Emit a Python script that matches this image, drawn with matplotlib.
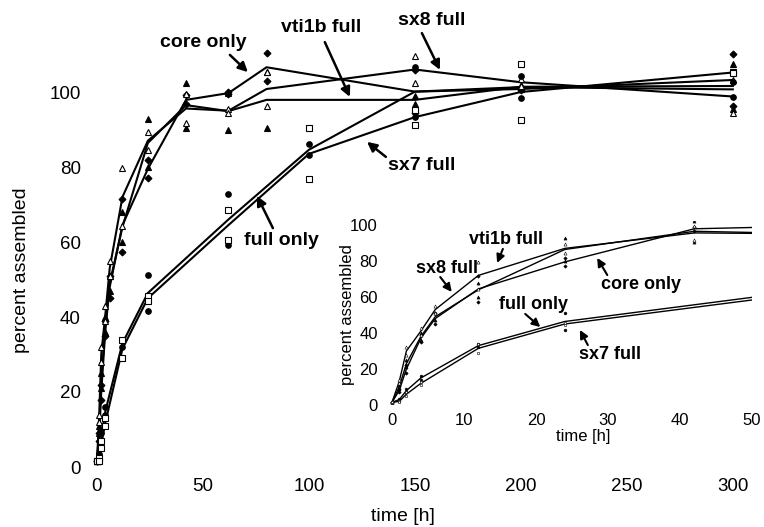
import numpy as np
import matplotlib.pyplot as plt

plt.rcParams['font.family'] = ['Liberation Sans', 'DejaVu Sans']

# sampling times (h)
t_core = [0, 1, 2, 4, 6, 12, 24, 42, 62, 80, 150, 200, 300]
t_full = [0, 1, 2, 4, 12, 24, 62, 100, 150, 200, 300]

# two replicates per construct, percent assembled
core_a = [1.5, 9, 22, 39, 51, 71.6, 81.9, 99.1, 100.0, 110.3, 105.9, 101.0, 110.2]
core_b = [1.5, 7, 18, 35, 45, 57.4, 77.1, 96.7, 99.4, 102.9, 94.3, 100.6, 96.2]
vti_a = [1.5, 11, 25, 40, 51, 68, 92.8, 102.5, 99.8, 105.4, 99.0, 102.0, 107.6]
vti_b = [1.5, 9, 21, 36, 47, 60, 80.0, 90.5, 90.0, 90.4, 96.8, 100.8, 95.6]
sx8_a = [1.5, 14, 32, 43, 55, 79.7, 89.4, 99.5, 95.5, 105.4, 109.5, 103.5, 103.3]
sx8_b = [1.5, 12, 28, 39, 51, 64.3, 84.6, 91.7, 94.5, 96.2, 102.5, 101.7, 94.3]
full_a = [1.5, 3.5, 9, 16, 34, 51.2, 72.8, 86.1, 106.8, 104.3, 102.7]
full_b = [1.5, 2.5, 7, 14, 32, 41.6, 59.2, 83.1, 93.4, 98.3, 98.7]
sx7_a = [1.5, 2.5, 7, 13, 33.9, 45.6, 68.5, 90.3, 95.3, 107.5, 105.4]
sx7_b = [1.5, 1.5, 5, 11, 29.1, 44.4, 60.5, 76.7, 91.3, 92.5, 105.0]

series = [
    ('core only', t_core, core_a, core_b, dict(marker='D', mfc='k', ms=3.5)),
    ('vti1b full', t_core, vti_a, vti_b, dict(marker='^', mfc='k', ms=4.5)),
    ('sx8 full', t_core, sx8_a, sx8_b, dict(marker='^', mfc='white', ms=4.5)),
    ('full only', t_full, full_a, full_b, dict(marker='o', mfc='k', ms=4)),
    ('sx7 full', t_full, sx7_a, sx7_b, dict(marker='s', mfc='white', ms=4)),
]

W, H = 764, 527


def px_box(x0, x1, ytop, ybot):
    return [x0 / W, 1 - ybot / H, (x1 - x0) / W, (ybot - ytop) / H]


def draw(ax, lw, scale):
    for name, t, a, b, st in series:
        mean = (np.array(a) + np.array(b)) / 2
        ax.plot(t, mean, color='k', lw=lw, zorder=2)
        for rep in (a, b):
            ax.plot(t, rep, ls='none', marker=st['marker'], mfc=st['mfc'],
                    mec='k', mew=0.8 * scale, ms=st['ms'] * scale, zorder=3)


def clean(ax):
    for s in ax.spines.values():
        s.set_visible(False)


fig = plt.figure(figsize=(7.64, 5.27), dpi=100)

# main plot
ax = fig.add_axes(px_box(86.4, 754, 43.25, 470.75))
draw(ax, 1.5, 1.0)
ax.set_xlim(-5, 310)
ax.set_ylim(-1, 113)
ax.set_xticks([0, 50, 100, 150, 200, 250, 300])
ax.set_yticks([0, 20, 40, 60, 80, 100])
ax.tick_params(length=0, labelsize=13.5)
ax.tick_params(axis='y', pad=4)
ax.tick_params(axis='x', pad=5)
clean(ax)
ax.set_xlabel('time [h]', fontsize=14)
ax.set_ylabel('percent assembled', fontsize=14)
ax.xaxis.set_label_coords(0.474, -0.087)
ax.yaxis.set_label_coords(-0.085, 0.47)

arrow = dict(arrowstyle='-|>', color='k', lw=1.8, mutation_scale=14,
             shrinkA=0, shrinkB=0)
main_notes = [
    ('core only', (50, 113.3), (62.7, 109.9), (71.2, 105.3)),
    ('vti1b full', (105.7, 117.1), (107.5, 113.3), (119.3, 98.7)),
    ('sx8 full', (158, 119.2), (153.3, 115.7), (161.8, 105.9)),
    ('sx7 full', (153.3, 80.5), (136.3, 82.7), (127.4, 86.7)),
    ('full only', (86.8, 60.5), (83, 63.7), (75.5, 72.3)),
]
for txt, pos, tail, tip in main_notes:
    ax.text(pos[0], pos[1], txt, fontsize=14, fontweight='bold',
            ha='center', va='center')
    ax.annotate('', xy=tip, xytext=tail, arrowprops=arrow)

# inset, first 50 h
ins = fig.add_axes(px_box(384.8, 752, 221.4, 408.6))
ins.patch.set_alpha(0)
draw(ins, 1.0, 0.5)
ins.set_xlim(-1, 50)
ins.set_ylim(-2, 102)
ins.set_xticks([0, 10, 20, 30, 40, 50])
ins.set_yticks([0, 20, 40, 60, 80, 100])
ins.tick_params(length=0, labelsize=12)
ins.tick_params(axis='y', pad=5)
ins.tick_params(axis='x', pad=3)
clean(ins)
ins.set_xlabel('time [h]', fontsize=12)
ins.set_ylabel('percent assembled', fontsize=12)
ins.xaxis.set_label_coords(0.54, -0.11)
ins.yaxis.set_label_coords(-0.081, 0.5)

arrow2 = dict(arrow, lw=1.5, mutation_scale=12)
inset_notes = [
    ('vti1b full', (15.8, 91.7), (15.4, 86.7), (14.6, 78.9)),
    ('sx8 full', (7.6, 76.1), (6.7, 71.1), (8.3, 62.8)),
    ('core only', (34.6, 66.7), (29.9, 72.2), (28.5, 81.7)),
    ('full only', (19.6, 55.6), (18.5, 50.6), (20.6, 43.3)),
    ('sx7 full', (30.3, 27.8), (27.2, 33.3), (26.1, 41.7)),
]
for txt, pos, tail, tip in inset_notes:
    ins.text(pos[0], pos[1], txt, fontsize=13, fontweight='bold',
             ha='center', va='center')
    ins.annotate('', xy=tip, xytext=tail, arrowprops=arrow2)

fig.savefig('out.png', dpi=100)
